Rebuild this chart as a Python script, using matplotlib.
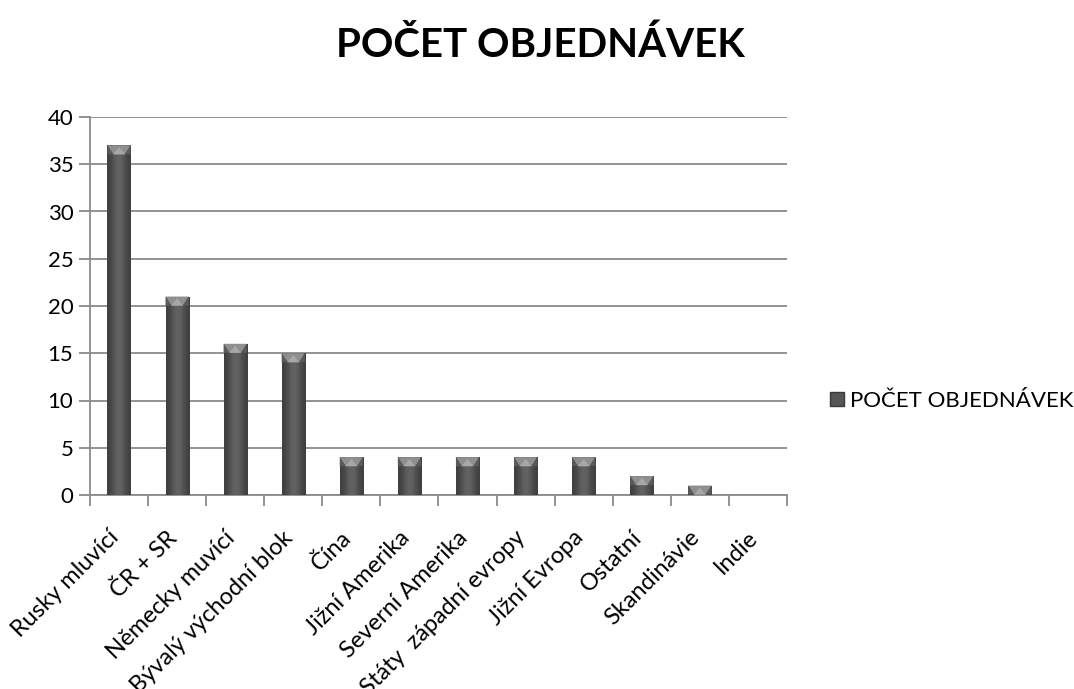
import matplotlib
matplotlib.use("Agg")
import matplotlib.pyplot as plt
import matplotlib.transforms as mtransforms
import numpy as np
from matplotlib.patches import Patch, Polygon

categories = ["Rusky mluvící", "ČR + SR", "Německy muvící", "Bývalý východní blok",
              "Čína", "Jižní Amerika", "Severní Amerika", "Státy  západní evropy",
              "Jižní Evropa", "Ostatní", "Skandinávie", "Indie"]
values = [37, 21, 16, 15, 4, 4, 4, 4, 4, 2, 1, 0]
series_name = "POČET OBJEDNÁVEK"
yticks = [0, 5, 10, 15, 20, 25, 30, 35, 40]

plt.rcParams['font.family'] = ['Lato', 'DejaVu Sans']

W, H = 1074, 689
fig = plt.figure(figsize=(W / 100, H / 100), dpi=100)
ax = fig.add_axes([90 / W, 1 - 495 / H, 697 / W, 378 / H])

x = np.arange(len(categories))
bars = ax.bar(x, values, width=0.40, color='#505050', edgecolor='none', zorder=3,
              label=series_name)

ax.set_xlim(-0.5, len(categories) - 0.5)
ax.set_ylim(0, 40)

# horizontal gradient on bars + lighter triangular cap
grad = np.array([[0.25, 0.30, 0.36, 0.40, 0.36, 0.30, 0.25]])
px_per_unit = 378 / 40.0
for b, v in zip(bars, values):
    if v <= 0:
        continue
    x0, w, top = b.get_x(), b.get_width(), b.get_height()
    im = ax.imshow(grad, cmap='gray', vmin=0, vmax=1, aspect='auto',
                   extent=(x0, x0 + w, 0, top), zorder=3, interpolation='bicubic')
    im.set_clip_path(b)
    capw = min(9 / px_per_unit, top)
    cap = Polygon([(x0, top), (x0 + w, top), (x0 + w * 0.75, top - capw),
                   (x0 + w * 0.25, top - capw)], closed=True, facecolor='#8f8f8f',
                  edgecolor='none', zorder=4)
    ax.add_patch(cap)
    tri = Polygon([(x0 + w * 0.25, top - capw), (x0 + w * 0.75, top - capw),
                   (x0 + w * 0.5, top - capw * 0.2)], closed=True, facecolor='#a8a8a8',
                  edgecolor='none', zorder=4.1)
    ax.add_patch(tri)
    sides = Polygon([(x0, top), (x0 + w * 0.25, top - capw), (x0, top - capw)],
                    closed=True, facecolor='#5a5a5a', edgecolor='none', zorder=4.2)
    ax.add_patch(sides)
    sides2 = Polygon([(x0 + w, top), (x0 + w * 0.75, top - capw), (x0 + w, top - capw)],
                     closed=True, facecolor='#5a5a5a', edgecolor='none', zorder=4.2)
    ax.add_patch(sides2)

ax.set_yticks(yticks)
ax.set_yticklabels([str(t) for t in yticks], fontsize=16)
ax.yaxis.grid(True, color='#8a8a8a', linewidth=1.3, zorder=0)
ax.set_axisbelow(True)

ax.set_xticks(x)
ax.set_xticklabels(categories, rotation=45, ha='right', rotation_mode='anchor', fontsize=17)
ax.tick_params(axis='x', length=0, pad=15)
offset = mtransforms.ScaledTranslation(-0.11, -0.11, fig.dpi_scale_trans)
for lbl in ax.get_xticklabels():
    lbl.set_transform(lbl.get_transform() + offset)
ax.set_xticks(np.arange(len(categories) + 1) - 0.5, minor=True)
ax.tick_params(axis='x', which='minor', length=8, color='#8a8a8a', width=1.3)
ax.tick_params(axis='y', length=8, color='#8a8a8a', width=1.3, pad=4)

for s in ['top', 'right']:
    ax.spines[s].set_visible(False)
for s in ['left', 'bottom']:
    ax.spines[s].set_color('#8a8a8a')
    ax.spines[s].set_linewidth(1.3)

fig.text(0.503, 0.935, series_name, ha='center', va='center', fontsize=29, fontweight='bold')

handle = Patch(facecolor='#555555', edgecolor='#3a3a3a')
fig.legend([handle], [series_name], loc='center left', bbox_to_anchor=(0.773, 0.418),
           frameon=False, fontsize=16, handlelength=0.6, handleheight=0.6, handletextpad=0.3,
           borderaxespad=0, borderpad=0)

fig.savefig("out.png", dpi=100)
